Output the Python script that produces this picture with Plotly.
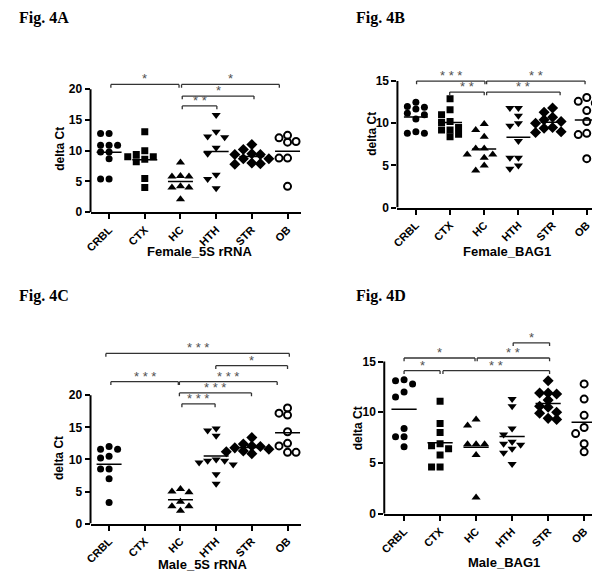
import numpy as np
import plotly.graph_objects as go

CATEGORIES = ["CRBL", "CTX", "HC", "HTH", "STR", "OB"]
SYMBOLS = ["circle", "square", "triangle-up", "triangle-down", "diamond", "circle-open"]
SIZES = [7, 7, 8, 8, 8.5, 7]

# Fig. 4A  Female_5S rRNA
A_CRBL = [12.8, 12.8, 10.9, 10.9, 10.9, 9.8, 9.8, 8.7, 5.4, 5.4]
A_CTX = [13.1, 10.0, 9.4, 9.0, 9.0, 8.6, 8.2, 5.5, 4.0]
A_HC = [8.1, 5.9, 5.8, 5.8, 4.2, 4.0, 4.0, 2.1]
A_HTH = [15.8, 13.1, 12.3, 12.2, 10.5, 9.5, 6.1, 5.4, 3.9]
A_STR = [11.0, 10.2, 9.5, 9.4, 9.4, 8.7, 8.7, 8.0, 7.9, 7.8]
A_OB = [12.5, 12.1, 11.5, 11.4, 8.8, 8.8, 4.2]

# Fig. 4B  Female_BAG1
B_CRBL = [12.5, 12.0, 11.9, 11.7, 11.2, 11.0, 10.5, 9.0, 8.8, 8.8]
B_CTX = [12.9, 11.6, 11.0, 10.2, 10.1, 9.5, 9.2, 9.2, 8.7, 8.4]
B_HC = [9.9, 9.2, 8.4, 7.0, 7.0, 6.3, 6.3, 5.9, 5.0, 4.4]
B_HTH = [11.8, 11.8, 10.9, 10.0, 9.7, 7.9, 5.9, 5.9, 5.0, 4.6]
B_STR = [11.8, 11.3, 10.7, 10.4, 10.2, 10.0, 9.5, 9.4, 9.0, 8.9]
B_OB = [13.05, 12.6, 12.4, 11.5, 10.2, 8.8, 8.65, 5.8]

# Fig. 4C  Male_5S rRNA
C_CRBL = [12.0, 11.6, 11.6, 10.5, 10.2, 8.5, 8.5, 7.0, 3.3]
C_CTX = []
C_HC = [5.4, 5.0, 4.9, 3.4, 2.7, 2.7, 2.0]
C_HTH = [14.8, 14.5, 13.7, 10.0, 9.8, 9.8, 9.5, 9.2, 7.7, 6.2]
C_STR = [13.4, 12.4, 12.1, 12.0, 11.8, 11.6, 11.3, 11.2, 10.9]
C_OB = [18.0, 17.2, 16.9, 14.3, 12.5, 12.1, 11.1, 11.1]

# Fig. 4D  Male_BAG1
D_CRBL = [13.2, 13.1, 12.8, 12.0, 11.5, 8.4, 7.6, 7.6, 6.6]
D_CTX = [11.1, 8.9, 8.0, 6.9, 6.7, 6.4, 5.8, 4.6, 4.6]
D_HC = [9.3, 8.7, 6.85, 6.85, 6.85, 5.8, 1.6]
D_HTH = [11.3, 10.6, 8.4, 7.8, 7.1, 6.9, 6.8, 6.4, 6.0, 4.9]
D_STR = [13.1, 11.9, 11.9, 11.8, 11.2, 10.6, 10.5, 10.0, 9.9, 9.4, 9.3]
D_OB = [12.8, 11.3, 9.7, 8.5, 7.9, 6.9, 6.1]

# significance brackets: (from, to, level, label)
A_BRACKETS = [(0.05, 1.96, 20.8, "*"), (2.03, 4.77, 20.8, "*"),
              (2.05, 4.06, 18.9, "*"), (2.05, 3.02, 17.3, "**")]
B_BRACKETS = [(0.02, 2.02, 15.0, "***"), (2.07, 4.95, 15.0, "**"),
              (0.99, 2.0, 13.7, "**"), (2.07, 4.22, 13.7, "**")]
C_BRACKETS = [(-0.09, 5.05, 26.5, "***"), (2.99, 5.0, 24.6, "*"),
              (0.05, 1.94, 22.1, "***"), (1.97, 4.71, 22.1, "***"),
              (1.97, 3.99, 20.35, "***"), (2.04, 2.97, 18.65, "***")]
D_BRACKETS = [(3.03, 4.04, 16.85, "*"), (0.0, 1.97, 15.35, "*"),
              (2.03, 4.04, 15.35, "**"), (0.0, 1.0, 14.1, "*"),
              (1.08, 4.04, 14.1, "**")]

W, H = 600, 572

PANELS = [
    dict(title="Fig. 4A", xtitle="Female_5S rRNA", ytop=20, ymax=23,
         groups=[A_CRBL, A_CTX, A_HC, A_HTH, A_STR, A_OB], brackets=A_BRACKETS,
         left=77.3, right=290, bottom=206.7, ppu=6.22, xr=(-0.52, 5.38),
         tpos=(3, 10), xtpos=(187.5, 247), ytpos=(47, 143)),
    dict(title="Fig. 4B", xtitle="Female_BAG1", ytop=15, ymax=17,
         groups=[B_CRBL, B_CTX, B_HC, B_HTH, B_STR, B_OB], brackets=B_BRACKETS,
         left=387.3, right=592.7, bottom=202, ppu=8.533, xr=(-0.54, 5.41),
         tpos=(343, 10), xtpos=(497.5, 246.5), ytpos=(362, 127)),
    dict(title="Fig. 4C", xtitle="Male_5S rRNA", ytop=20, ymax=29,
         groups=[C_CRBL, C_CTX, C_HC, C_HTH, C_STR, C_OB], brackets=C_BRACKETS,
         left=77.3, right=290, bottom=522, ppu=6.5, xr=(-0.52, 5.38),
         tpos=(3, 292), xtpos=(190.5, 563), ytpos=(46, 456)),
    dict(title="Fig. 4D", xtitle="Male_BAG1", ytop=15, ymax=18.5,
         groups=[D_CRBL, D_CTX, D_HC, D_HTH, D_STR, D_OB], brackets=D_BRACKETS,
         left=374, right=593, bottom=512, ppu=10.27, xr=(-0.55, 5.47),
         tpos=(343, 292), xtpos=(494.5, 561), ytpos=(347, 426)),
]


def swarm(vals, ppu_y, ppu_x, d=6.6, s=8.6):
    placed = []
    res = [0.0] * len(vals)
    order = sorted(range(len(vals)), key=lambda i: -vals[i])
    for i in order:
        y = vals[i] * ppu_y
        x = 0.0
        for k in [0, -1, 1, -2, 2, -3, 3]:
            x = k * s
            if all((x - px) ** 2 + (y - py) ** 2 >= d * d for px, py in placed):
                break
        placed.append((x, y))
        res[i] = x / ppu_x
    return res


fig = go.Figure()
annotations = []
shapes = []
FONT = "Liberation Sans"
LINEC = "#333333"
STARC = "#505050"

for p_i, p in enumerate(PANELS):
    n = "" if p_i == 0 else str(p_i + 1)
    xa, ya = "x" + n, "y" + n
    top_px = p["bottom"] - p["ymax"] * p["ppu"]
    xdom = [p["left"] / W, p["right"] / W]
    ydom = [1 - p["bottom"] / H, 1 - top_px / H]
    ppu_x = (p["right"] - p["left"]) / (p["xr"][1] - p["xr"][0])

    for g_i, vals in enumerate(p["groups"]):
        if not vals:
            continue
        offs = swarm(vals, p["ppu"], ppu_x)
        sym = SYMBOLS[g_i]
        marker = dict(symbol=sym, size=SIZES[g_i], color="black")
        if sym == "circle-open":
            marker["line"] = dict(width=2, color="black")
        fig.add_trace(go.Scatter(
            x=[g_i + o for o in offs], y=vals, mode="markers", marker=marker,
            xaxis=xa, yaxis=ya, showlegend=False, hoverinfo="skip"))
        m = float(np.mean(vals))
        fig.add_trace(go.Scatter(
            x=[g_i - 0.35, g_i + 0.35], y=[m, m], mode="lines",
            line=dict(color="black", width=1.5), xaxis=xa, yaxis=ya,
            showlegend=False, hoverinfo="skip"))

    # y axis line only up to the top tick
    shapes.append(dict(type="line", xref=xa + " domain", yref=ya, x0=0, x1=0,
                       y0=0, y1=p["ytop"], line=dict(color="black", width=2)))

    tick = 3.3 / p["ppu"]
    for (x0, x1, lev, lab) in p["brackets"]:
        shapes.append(dict(type="line", xref=xa, yref=ya, x0=x0, x1=x1, y0=lev, y1=lev,
                           line=dict(color=LINEC, width=1.3)))
        for xx in (x0, x1):
            shapes.append(dict(type="line", xref=xa, yref=ya, x0=xx, x1=xx,
                               y0=lev, y1=lev - tick, line=dict(color=LINEC, width=1.3)))
        annotations.append(dict(x=(x0 + x1) / 2, y=lev, xref=xa, yref=ya,
                                text=" ".join(lab), showarrow=False, yanchor="bottom",
                                yshift=-4, font=dict(family=FONT, size=13, color=STARC)))

    annotations.append(dict(x=p["tpos"][0] / W, y=1 - p["tpos"][1] / H, xref="paper",
                            yref="paper", text=p["title"], showarrow=False,
                            xanchor="left", yanchor="middle",
                            font=dict(family="Liberation Serif", size=16, color="black",
                                      weight="bold")))
    annotations.append(dict(x=p["xtpos"][0] / W, y=1 - p["xtpos"][1] / H, xref="paper",
                            yref="paper", text=p["xtitle"], showarrow=False,
                            xanchor="center", yanchor="middle",
                            font=dict(family=FONT, size=13, color="black", weight="bold")))
    annotations.append(dict(x=p["ytpos"][0] / W, y=1 - p["ytpos"][1] / H, xref="paper",
                            yref="paper", text="delta Ct", showarrow=False, textangle=-90,
                            xanchor="center", yanchor="middle",
                            font=dict(family=FONT, size=12, color="black", weight="bold")))

    fig.update_layout(**{
        "xaxis" + n: dict(domain=xdom, anchor=ya, range=list(p["xr"]),
                          tickvals=list(range(len(CATEGORIES))), ticktext=CATEGORIES,
                          tickangle=-45, ticks="outside", ticklen=5, tickwidth=2,
                          tickcolor="black", showline=True, linewidth=2, linecolor="black",
                          showgrid=False, zeroline=False,
                          tickfont=dict(family=FONT, size=11, color="black", weight="bold")),
        "yaxis" + n: dict(domain=ydom, anchor=xa, range=[0, p["ymax"]],
                          tickvals=list(range(0, p["ytop"] + 1, 5)), ticks="outside",
                          ticklen=5, tickwidth=2, tickcolor="black", showline=False,
                          showgrid=False, zeroline=False,
                          tickfont=dict(family=FONT, size=12, color="black", weight="bold")),
    })

fig.update_layout(width=W, height=H, margin=dict(l=0, r=0, t=0, b=0),
                  paper_bgcolor="white", plot_bgcolor="white",
                  annotations=annotations, shapes=shapes, showlegend=False)

fig.write_html("out.html")
